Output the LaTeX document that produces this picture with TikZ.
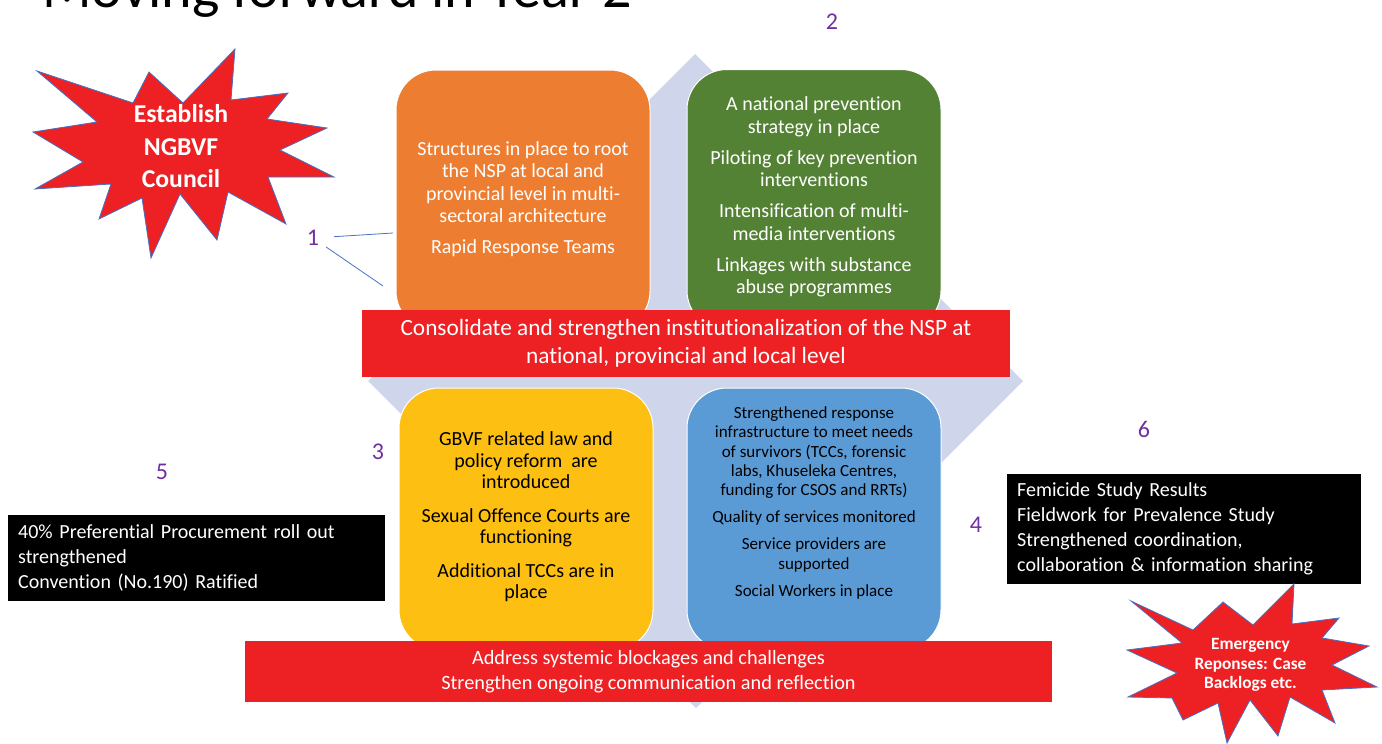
\documentclass[tikz,border=0pt]{standalone}
\usepackage{fontspec}
\setmainfont{Carlito}[Ligatures=NoCommon]
\usetikzlibrary{calc}

\definecolor{nspOrange}{HTML}{ED7D31}
\definecolor{nspGreen}{HTML}{548235}
\definecolor{nspGold}{HTML}{FCBF12}
\definecolor{nspSky}{HTML}{5B9BD5}
\definecolor{nspRed}{HTML}{ED2024}
\definecolor{nspLilac}{HTML}{CFD5EA}
\definecolor{nspPurple}{HTML}{7030A0}
\definecolor{nspBlue}{HTML}{4472C4}

\begin{document}
\begin{tikzpicture}[x=1pt, y=-1pt,
    tile/.style={rectangle, rounded corners=40pt, draw=white, line width=1pt,
        minimum width=254pt, minimum height=261pt, inner sep=0pt},
    tiletext/.style={align=center, inner sep=0pt},
    banner/.style={rectangle, fill=nspRed, text=white, align=center, inner sep=0pt},
    blackbox/.style={rectangle, fill=black, text=white, align=left, anchor=north west,
        inner xsep=10pt, inner ysep=0pt, font=\fontsize{20}{25}\selectfont},
    stepnum/.style={text=nspPurple, font=\fontsize{24}{24}\selectfont, inner sep=2pt},
    burst/.style={fill=nspRed, draw=nspBlue, line width=0.8pt, line join=miter},
    bursttext/.style={text=white, align=center, inner sep=0pt},
    link/.style={draw=nspBlue, line width=0.8pt}]

    \useasboundingbox (0,0) rectangle (1382,744);

    % title (cut at the top)
    \node[anchor=base west, inner sep=0pt, font=\fontsize{58}{58}\selectfont] (title) at (42,7) {Moving forward in Year 2};

    % diamond behind the quadrants
    \fill[nspLilac] (695,54) -- (1023,381) -- (696,708) -- (368,381) -- cycle;

    % quadrants
    \node[tile, fill=nspOrange] (struct) at (523,200.5) {};
    \node[tile, fill=nspGreen] (prevent) at (814,200) {};
    \node[tile, fill=nspGold, minimum height=262pt] (reform) at (526,519) {};
    \node[tile, fill=nspSky, minimum height=262pt] (respond) at (814,519) {};

    \node[tiletext, text=white, font=\fontsize{20}{22.5}\selectfont] (structtxt) at (523,199)
        {Structures in place to root\\the NSP at local and\\provincial level in multi-\\sectoral architecture\\[8.5pt]Rapid Response Teams};
    \node[tiletext, text=white, font=\fontsize{20}{22.5}\selectfont] (preventtxt) at (814,197)
        {A national prevention\\strategy in place\\[8.5pt]Piloting of key prevention\\interventions\\[8.5pt]Intensification of multi-\\media interventions\\[8.5pt]Linkages with substance\\abuse programmes};
    \node[tiletext, text=black, font=\fontsize{20}{21.5}\selectfont] (reformtxt) at (526,517)
        {GBVF related law and\\policy reform\ \ are\\introduced\\[12pt]Sexual Offence Courts are\\functioning\\[12pt]Additional TCCs are in\\place};
    \node[tiletext, text=black, font=\fontsize{17}{19.2}\selectfont] (respondtxt) at (814,503)
        {Strengthened response\\infrastructure to meet needs\\of survivors (TCCs, forensic\\labs, Khuseleka Centres,\\funding for CSOS and RRTs)\\[8pt]Quality of services monitored\\[8pt]Service providers are\\supported\\[8pt]Social Workers in place};

    % red banners
    \node[banner, minimum width=648pt, minimum height=67pt, font=\fontsize{23.3}{28}\selectfont] (consolidate) at (686,343)
        {Consolidate and strengthen institutionalization of the NSP at\\national, provincial and local level};
    \node[banner, minimum width=807pt, minimum height=61pt, font=\fontsize{20.3}{25}\selectfont] (systemic) at (648.5,671.5)
        {Address systemic blockages and challenges\\Strengthen ongoing communication and reflection};

    % black boxes
    \node[blackbox, minimum width=377pt, text width=357pt, minimum height=86pt] (procure) at (8,515)
        {40\% Preferential Procurement roll out\\strengthened\\Convention (No.190) Ratified};
    \node[blackbox, minimum width=354pt, text width=334pt, minimum height=110pt] (studies) at (1007,474)
        {Femicide Study Results\\Fieldwork for Prevalence Study\\Strengthened coordination,\\collaboration \& information sharing};

    % numbers
    \node[stepnum] (n1) at (313,238) {1};
    \node[stepnum] (n2) at (832,22) {2};
    \node[stepnum] (n3) at (378,452) {3};
    \node[stepnum] (n4) at (976,525) {4};
    \node[stepnum] (n5) at (162,472) {5};
    \node[stepnum] (n6) at (1144,429) {6};

    \coordinate (to1a) at (393,233);
    \coordinate (to1b) at (383,286);
    \draw[link, shorten <=21pt] (n1.center) -- (to1a);
    \draw[link, shorten <=16pt] (n1.center) -- (to1b);

    % starbursts
    \filldraw[burst] (37,71) -- (133,103) -- (149,72) -- (183,103) -- (235,49) -- (231,100)
        -- (288,93) -- (267,119) -- (327,128) -- (280,150) -- (334,177) -- (268,177)
        -- (286,224) -- (228,192) -- (217,240) -- (180,194) -- (151,258) -- (142,198)
        -- (99,219) -- (111,184) -- (35,189) -- (83,162) -- (33,132) -- (97,122) -- cycle;
    \node[bursttext, font=\bfseries\fontsize{25.7}{32.5}\selectfont] (council) at (181,146.5)
        {Establish\\NGBVF\\Council};

    \filldraw[burst] (1131,601) -- (1193,630) -- (1223,602) -- (1253,625) -- (1294,584) -- (1292,624)
        -- (1339,618) -- (1322,638) -- (1369,646) -- (1332,665) -- (1377,687) -- (1322,690)
        -- (1335,723) -- (1290,697) -- (1278,736) -- (1250,700) -- (1227,743) -- (1218,703)
        -- (1183,720) -- (1172,698) -- (1128,697) -- (1177,673) -- (1127,650) -- (1182,643) -- cycle;
    \node[bursttext, font=\bfseries\fontsize{17.3}{19.5}\selectfont] (emergency) at (1250.5,665)
        {Emergency\\Reponses: Case\\Backlogs etc.};

\end{tikzpicture}
\end{document}
